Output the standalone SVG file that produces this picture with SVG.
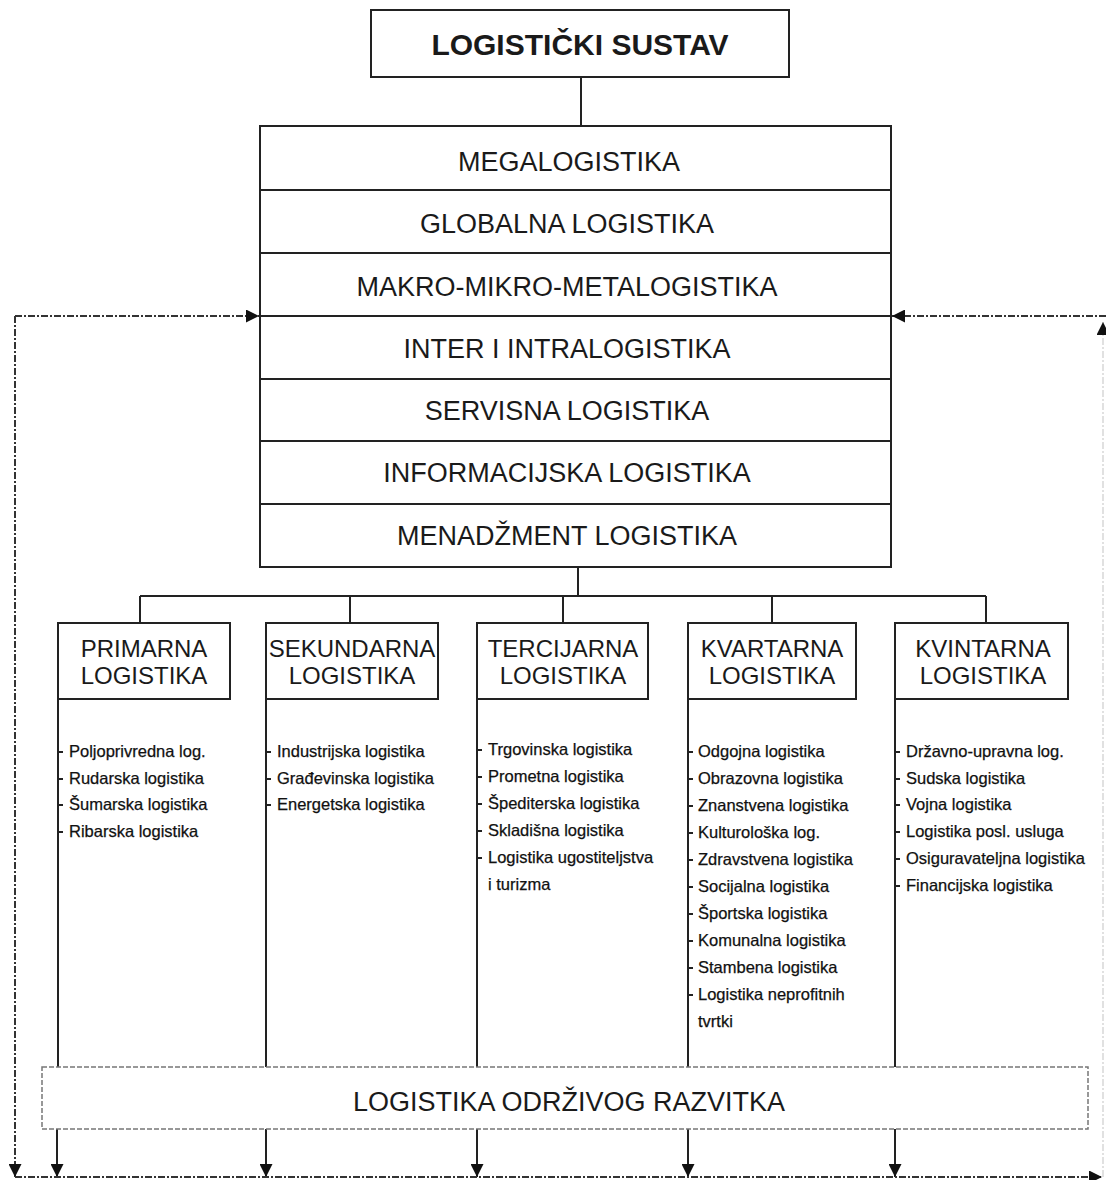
<svg xmlns="http://www.w3.org/2000/svg" width="1106" height="1180" viewBox="0 0 1106 1180">
<style>
.box{fill:#fff;stroke:#222;stroke-width:2}
.ln{stroke:#222;stroke-width:2;fill:none}
.dash{stroke:#333;stroke-width:2;fill:none;stroke-dasharray:7 2 2 2}
.t{font-family:"Liberation Sans",Arial,sans-serif;fill:#1a1a1a;text-anchor:middle}
.main{font-size:27px}
.hd{font-size:24px}
.it{font-family:"Liberation Sans",Arial,sans-serif;fill:#111;font-size:16.5px;stroke:#111;stroke-width:0.25}
</style>
<defs>
<marker id="ah" viewBox="0 0 10 10" refX="10" refY="5" markerWidth="13" markerHeight="13" markerUnits="userSpaceOnUse" orient="auto">
<path d="M0,0 L10,5 L0,10 Z" fill="#111"/>
</marker>
</defs>
<rect width="1106" height="1180" fill="#fff"/>

<g id="connectors">
<line class="ln" x1="581" y1="77" x2="581" y2="126"/>
<line class="ln" x1="578" y1="567" x2="578" y2="596"/>
<line class="ln" x1="140" y1="596" x2="986" y2="596"/>
<line class="ln" x1="140" y1="596" x2="140" y2="623"/>
<line class="ln" x1="350" y1="596" x2="350" y2="623"/>
<line class="ln" x1="563" y1="596" x2="563" y2="623"/>
<line class="ln" x1="772" y1="596" x2="772" y2="623"/>
<line class="ln" x1="986" y1="596" x2="986" y2="623"/>
<line class="ln" x1="58" y1="699" x2="58" y2="1067"/>
<line class="ln" x1="266" y1="699" x2="266" y2="1067"/>
<line class="ln" x1="477" y1="699" x2="477" y2="1067"/>
<line class="ln" x1="688" y1="699" x2="688" y2="1067"/>
<line class="ln" x1="895" y1="699" x2="895" y2="1067"/>
<line class="ln" x1="57" y1="1129" x2="57" y2="1177" marker-end="url(#ah)"/>
<line class="ln" x1="266" y1="1129" x2="266" y2="1177" marker-end="url(#ah)"/>
<line class="ln" x1="477" y1="1129" x2="477" y2="1177" marker-end="url(#ah)"/>
<line class="ln" x1="688" y1="1129" x2="688" y2="1177" marker-end="url(#ah)"/>
<line class="ln" x1="895" y1="1129" x2="895" y2="1177" marker-end="url(#ah)"/>
<line class="dash" x1="15" y1="316" x2="259" y2="316" marker-end="url(#ah)"/>
<line class="dash" x1="15" y1="316" x2="15" y2="1177" marker-end="url(#ah)"/>
<line class="dash" x1="15" y1="1177" x2="1102" y2="1177" marker-end="url(#ah)"/>
<line class="dash" x1="1103" y1="1177" x2="1103" y2="322" marker-end="url(#ah)" stroke-opacity="0.15"/>
<line class="dash" x1="1106" y1="316" x2="892" y2="316" marker-end="url(#ah)"/>
</g>

<g id="logisticki-sustav">
<rect class="box" x="371" y="10" width="418" height="67"/>
<text class="t" x="580" y="55" font-size="30" font-weight="bold">LOGISTIČKI SUSTAV</text>
</g>

<g id="main-box">
<rect class="box" x="260" y="126" width="631" height="441"/>
<line class="ln" x1="260" y1="190" x2="891" y2="190"/>
<line class="ln" x1="260" y1="253" x2="891" y2="253"/>
<line class="ln" x1="260" y1="316" x2="891" y2="316"/>
<line class="ln" x1="260" y1="379" x2="891" y2="379"/>
<line class="ln" x1="260" y1="441" x2="891" y2="441"/>
<line class="ln" x1="260" y1="504" x2="891" y2="504"/>
<text class="t main" x="569" y="171">MEGALOGISTIKA</text>
<text class="t main" x="567" y="233">GLOBALNA LOGISTIKA</text>
<text class="t main" x="567" y="296">MAKRO-MIKRO-METALOGISTIKA</text>
<text class="t main" x="567" y="358">INTER I INTRALOGISTIKA</text>
<text class="t main" x="567" y="420">SERVISNA LOGISTIKA</text>
<text class="t main" x="567" y="482">INFORMACIJSKA LOGISTIKA</text>
<text class="t main" x="567" y="545">MENADŽMENT LOGISTIKA</text>
</g>

<g id="primarna">
<rect class="box" x="58" y="623" width="172" height="76"/>
<text class="t hd" x="144" y="657">PRIMARNA</text>
<text class="t hd" x="144" y="684">LOGISTIKA</text>
<path class="ln" d="M58,752h5M58,779h5M58,805h5M58,832h5" stroke-width="1.5"/>
<text class="it" x="69" y="757">Poljoprivredna log.</text>
<text class="it" x="69" y="784">Rudarska logistika</text>
<text class="it" x="69" y="810">Šumarska logistika</text>
<text class="it" x="69" y="837">Ribarska logistika</text>
</g>

<g id="sekundarna">
<rect class="box" x="266" y="623" width="172" height="76"/>
<text class="t hd" x="352" y="657" font-size="22.5">SEKUNDARNA</text>
<text class="t hd" x="352" y="684">LOGISTIKA</text>
<path class="ln" d="M266,752h5M266,779h5M266,805h5" stroke-width="1.5"/>
<text class="it" x="277" y="757">Industrijska logistika</text>
<text class="it" x="277" y="784">Građevinska logistika</text>
<text class="it" x="277" y="810">Energetska logistika</text>
</g>

<g id="tercijarna">
<rect class="box" x="477" y="623" width="171" height="76"/>
<text class="t hd" x="563" y="657">TERCIJARNA</text>
<text class="t hd" x="563" y="684">LOGISTIKA</text>
<path class="ln" d="M477,750h5M477,777h5M477,804h5M477,831h5M477,858h5" stroke-width="1.5"/>
<text class="it" x="488" y="755">Trgovinska logistika</text>
<text class="it" x="488" y="782">Prometna logistika</text>
<text class="it" x="488" y="809">Špediterska logistika</text>
<text class="it" x="488" y="836">Skladišna logistika</text>
<text class="it" x="488" y="863">Logistika ugostiteljstva</text>
<text class="it" x="488" y="890">i turizma</text>
</g>

<g id="kvartarna">
<rect class="box" x="688" y="623" width="168" height="76"/>
<text class="t hd" x="772" y="657">KVARTARNA</text>
<text class="t hd" x="772" y="684">LOGISTIKA</text>
<path class="ln" d="M688,752h5M688,779h5M688,806h5M688,833h5M688,860h5M688,887h5M688,914h5M688,941h5M688,968h5M688,995h5" stroke-width="1.5"/>
<text class="it" x="698" y="757">Odgojna logistika</text>
<text class="it" x="698" y="784">Obrazovna logistika</text>
<text class="it" x="698" y="811">Znanstvena logistika</text>
<text class="it" x="698" y="838">Kulturološka log.</text>
<text class="it" x="698" y="865">Zdravstvena logistika</text>
<text class="it" x="698" y="892">Socijalna logistika</text>
<text class="it" x="698" y="919">Športska logistika</text>
<text class="it" x="698" y="946">Komunalna logistika</text>
<text class="it" x="698" y="973">Stambena logistika</text>
<text class="it" x="698" y="1000">Logistika neprofitnih</text>
<text class="it" x="698" y="1027">tvrtki</text>
</g>

<g id="kvintarna">
<rect class="box" x="895" y="623" width="173" height="76"/>
<text class="t hd" x="983" y="657">KVINTARNA</text>
<text class="t hd" x="983" y="684">LOGISTIKA</text>
<path class="ln" d="M895,752h5M895,779h5M895,805h5M895,832h5M895,859h5M895,886h5" stroke-width="1.5"/>
<text class="it" x="906" y="757">Državno-upravna log.</text>
<text class="it" x="906" y="784">Sudska logistika</text>
<text class="it" x="906" y="810">Vojna logistika</text>
<text class="it" x="906" y="837">Logistika posl. usluga</text>
<text class="it" x="906" y="864">Osiguravateljna logistika</text>
<text class="it" x="906" y="891">Financijska logistika</text>
</g>

<g id="odrzivi-razvitak">
<rect x="42" y="1067" width="1046" height="62" fill="#fff" stroke="#777" stroke-width="1.5" stroke-dasharray="5 2"/>
<text class="t main" x="569" y="1111">LOGISTIKA ODRŽIVOG RAZVITKA</text>
</g>
</svg>
